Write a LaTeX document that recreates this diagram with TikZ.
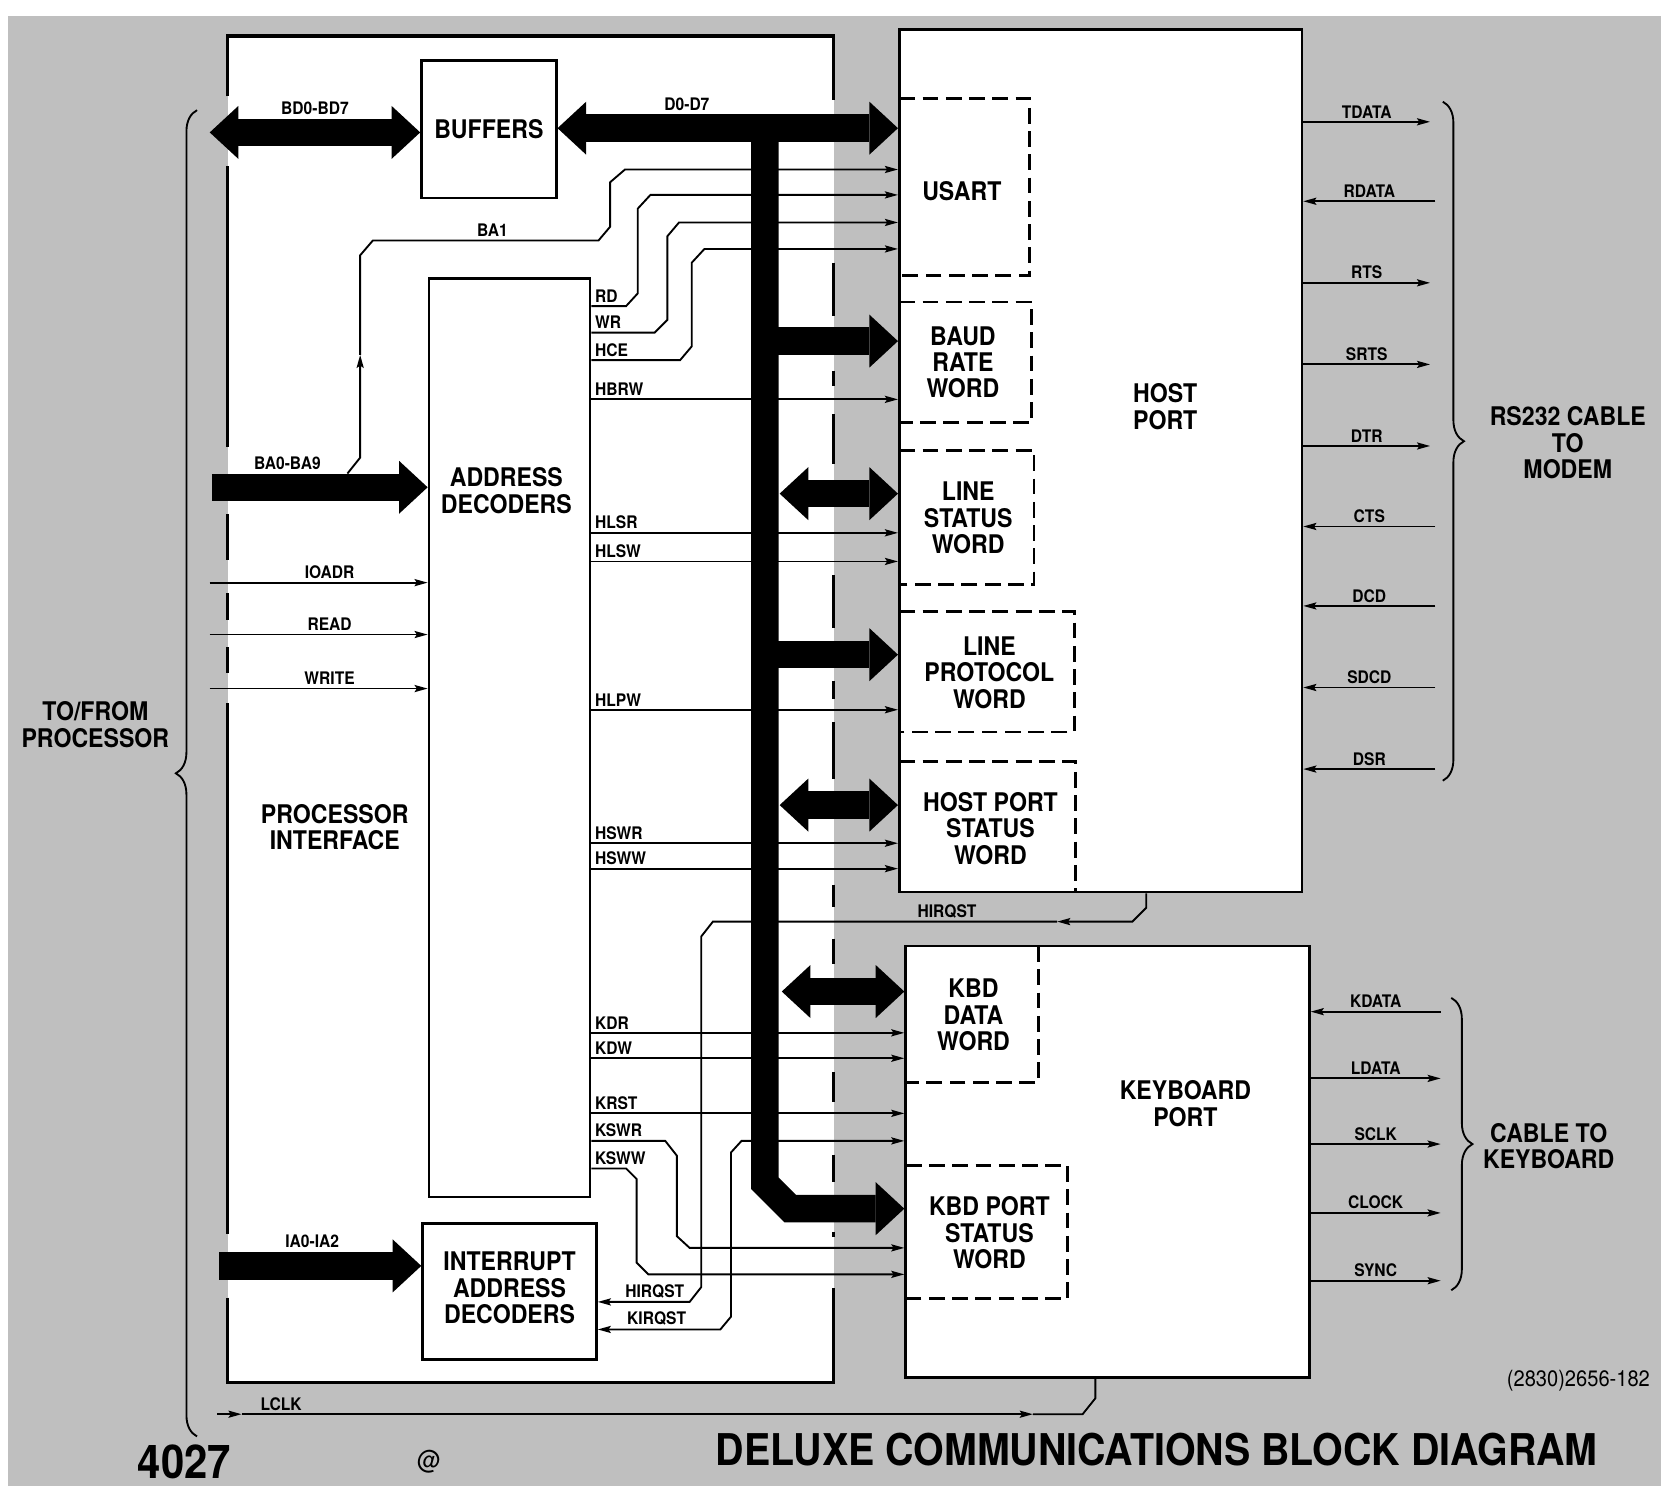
\documentclass[tikz,border=0pt]{standalone}
\usepackage{fontspec}
\setmainfont{TeX Gyre Heros}[FakeStretch=0.9]
\usepackage{tikz}
\usetikzlibrary{arrows.meta, fit, decorations.pathreplacing}
\definecolor{paper}{gray}{0.75}
\newcommand{\blkfont}{\fontsize{13.8}{14.2}\selectfont\bfseries}
\newcommand{\sgfont}{\fontsize{9.3}{10}\selectfont\bfseries}
\newcommand{\ttlfont}{\fontsize{23.5}{26}\selectfont\bfseries}
\tikzset{every node/.append style={font=\blkfont, align=center}}
\tikzset{
  box/.style={draw, line width=1.5pt, fill=white, inner sep=0pt},
  word/.style={inner sep=0pt, outer sep=0pt},
  dbox/.style={line width=1.5pt, dash pattern=on 8.5pt off 4pt},
  edge/.style={line width=1.7pt},
  wire/.style={line width=1pt},
  sig/.style={wire, ->},
  lbl/.style={font=\sgfont, inner sep=1.5pt},
  fatone/.style={line width=0.52cm, -{Triangle[length=0.54cm, width=1cm, line width=0pt]}},
  fatdbl/.style={line width=0.52cm, {Triangle[length=0.54cm, width=1cm, line width=0pt]}-{Triangle[length=0.54cm, width=1cm, line width=0pt]}},
  brc/.style={line width=1pt, decorate, decoration={brace, amplitude=0.4cm}}
}

\begin{document}
\begin{tikzpicture}[x=0.02cm, y=-0.02cm, line join=miter, >={Stealth[length=7pt, width=3.8pt, inset=1.2pt]}]
    \useasboundingbox (0,0) rectangle (1568,1403);
    \fill[paper] (8,15) rectangle (1568,1403);

    % processor interface area, its edges broken where lines cross
    \fill[white] (215,34) rectangle (787,1305);
    \draw[edge] (215,91) -- (215,34) -- (787,34) -- (787,94);
    \draw[edge] (215,1225) -- (215,1305) -- (787,1305) -- (787,1216);
    \foreach \a/\b in {157/422, 485/529, 560/585, 611/635, 664/1165}
        \draw[edge] (215,\a) -- (215,\b);
    \foreach \a/\b in {248/298, 350/364, 391/438, 543/593, 643/660, 682/735, 835/856, 886/910, 1012/1040, 1090/1116, 1163/1168}
        \draw[edge] (787,\a) -- (787,\b);

    % blocks
    \node[box, fit={(398,57) (525,187)}] (buffers) {};
    \node (buftxt) at (buffers.center) {BUFFERS};
    \node[box, fit={(405,263) (557,1130)}] (addr) {};
    \node (addrtxt) at (478,463) {ADDRESS\\DECODERS};
    \node[box, fit={(399,1155) (563,1283)}] (intdec) {};
    \node (inttxt) at (481,1216) {INTERRUPT\\ADDRESS\\DECODERS};
    \node[box, fit={(849,28) (1229,842)}] (host) {};
    \node (hosttxt) at (1100,384) {HOST\\PORT};
    \node[box, fit={(855,893) (1236,1300)}] (kbd) {};
    \node (kbdtxt) at (1119,1042) {KEYBOARD\\PORT};
    \node (procif) at (316,781) {PROCESSOR\\INTERFACE};

    % registers inside the ports
    \node[word, fit={(849,93) (972,260)}] (usart) {};
    \node[word, fit={(849,285) (974,399)}] (baud) {};
    \node[word, fit={(849,425) (976,552)}] (lsw) {};
    \node[word, fit={(849,577) (1014,691)}] (lpw) {};
    \node[word, fit={(849,719) (1015,842)}] (hpsw) {};
    \node[word, fit={(855,893) (980,1022)}] (kdw) {};
    \node[word, fit={(855,1100) (1008,1226)}] (kpsw) {};
    \node (usarttxt) at (908,180) {USART};
    \node (baudtxt) at (909,342) {BAUD\\RATE\\WORD};
    \node (lswtxt) at (914,489) {LINE\\STATUS\\WORD};
    \node (lpwtxt) at (934,635) {LINE\\PROTOCOL\\WORD};
    \node (hpswtxt) at (935,782) {HOST PORT\\STATUS\\WORD};
    \node (kdwtxt) at (919,958) {KBD\\DATA\\WORD};
    \node (kpswtxt) at (934,1164) {KBD PORT\\STATUS\\WORD};
    \foreach \w in {usart, baud, lsw, lpw, kpsw}
        \draw[dbox] (\w.north west) -- (\w.north east) -- (\w.south east) -- (\w.south west);
    \draw[dbox] (hpsw.north west) -- (hpsw.north east) -- (hpsw.south east);
    \draw[dbox] (kdw.north east) -- (kdw.south east) -- (kdw.south west);

    % decoder outputs
    \foreach \n/\y in {HBRW/377, HLSR/503, HLSW/530, HLPW/670, HSWR/796, HSWW/820}
        \draw[sig] (addr.east |- 0,\y) -- (host.west |- 0,\y) node[lbl, pos=0, above right] {\n};
    \foreach \n/\y in {KDR/975, KDW/999, KRST/1051}
        \draw[sig] (addr.east |- 0,\y) -- (kbd.west |- 0,\y) node[lbl, pos=0, above right] {\n};
    \draw[sig] (addr.east |- 0,289) -- (591,289) node[lbl, pos=0, above right] {RD}
        -- (602,277) -- (602,197) -- (614,184) -- (host.west |- 0,184);
    \draw[sig] (addr.east |- 0,314) -- (618,314) node[lbl, pos=0, above right] {WR}
        -- (630,302) -- (630,223) -- (641,210) -- (host.west |- 0,210);
    \draw[sig] (addr.east |- 0,340) -- (642,340) node[lbl, pos=0, above right] {HCE}
        -- (653,327) -- (653,248) -- (665,235) -- (host.west |- 0,235);
    \draw[sig] (addr.east |- 0,1077) -- (628,1077) node[lbl, pos=0, above right] {KSWR}
        -- (639,1091) -- (639,1167) -- (651,1178) -- (kbd.west |- 0,1178);
    \draw[sig] (addr.east |- 0,1103) -- (591,1103) node[lbl, pos=0, above right] {KSWW}
        -- (601,1113) -- (601,1192) -- (612,1203) -- (kbd.west |- 0,1203);

    % BA1
    \draw[sig] (328,447) -- (340,432) -- (340,335);
    \draw[sig] (340,335) -- (340,241) -- (352,227) -- (565,227) node[lbl, pos=0.53, above] {BA1}
        -- (576,214) -- (576,172) -- (590,160) -- (host.west |- 0,160);

    % interrupt requests
    \draw[sig] (host.south -| 1082,0) -- (1082,857) -- (1069,870) -- (998,870);
    \draw[sig] (998,870) -- (673,870) node[lbl, pos=0.32, above] {HIRQST}
        -- (662,884) -- (662,1215) -- (651,1229) -- (intdec.east |- 0,1229) node[lbl, pos=0.38, above] {HIRQST};
    \draw[wire, <->] (intdec.east |- 0,1255) -- (680,1255) node[lbl, pos=0.48, above] {KIRQST}
        -- (690,1243) -- (690,1088) -- (700,1077) -- (kbd.west |- 0,1077);

    % processor side
    \foreach \n/\y in {IOADR/550, READ/599, WRITE/650}
        \draw[sig] (198,\y) -- (addr.west |- 0,\y) node[lbl, pos=0.55, above] {\n};
    \draw[sig] (205,1335) -- (228,1335);
    \draw[sig] (228,1335) -- (975,1335) node[lbl, pos=0.05, above] {LCLK};
    \draw[wire] (975,1335) -- (1022,1335) -- (1034,1320) -- (kbd.south -| 1034,0);

    % modem and keyboard cables
    \foreach \n/\y in {TDATA/115, RTS/267, SRTS/344, DTR/421}
        \draw[sig] (host.east |- 0,\y) -- (1350,\y) node[lbl, midway, above] {\n};
    \foreach \n/\y in {RDATA/190, CTS/497, DCD/572, SDCD/649, DSR/726}
        \draw[sig] (1355,\y) -- (host.east |- 0,\y) node[lbl, midway, above] {\n};
    \foreach \n/\y in {LDATA/1018, SCLK/1080, CLOCK/1145, SYNC/1209}
        \draw[sig] (kbd.east |- 0,\y) -- (1360,\y) node[lbl, midway, above] {\n};
    \draw[sig] (1360,955) -- (kbd.east |- 0,955) node[lbl, midway, above] {KDATA};

    % data buses
    \draw[fatdbl] (198,125) -- (buffers.west |- 0,125) node[lbl, midway, yshift=0.46cm] {BD0-BD7};
    \draw[fatdbl] (buffers.east |- 0,121) -- (host.west |- 0,121) node[lbl, pos=0.38, yshift=0.46cm] {D0-D7};
    \draw[fatone] (200,460) -- (addr.west |- 0,460) node[lbl, pos=0.35, yshift=0.46cm] {BA0-BA9};
    \draw[fatone] (207,1195) -- (intdec.west |- 0,1195) node[lbl, pos=0.46, yshift=0.46cm] {IA0-IA2};
    \draw[fatone] (722,121) -- (722,1117) -- (746,1141) -- (kbd.west |- 0,1141);
    \draw[fatone] (722,322) -- (host.west |- 0,322);
    \draw[fatdbl] (736,466) -- (host.west |- 0,466);
    \draw[fatone] (722,618) -- (host.west |- 0,618);
    \draw[fatdbl] (736,760) -- (host.west |- 0,760);
    \draw[fatdbl] (738,936) -- (kbd.west |- 0,936);

    % braces and captions
    \draw[brc] (186,1356) -- (186,104);
    \draw[brc] (1362,96) -- (1362,737);
    \draw[brc] (1370,942) -- (1370,1218);
    \node (tofrom) at (90,684) {TO/FROM\\PROCESSOR};
    \node (modem) at (1480,418) {RS232 CABLE\\TO\\MODEM};
    \node (kbcable) at (1462,1082) {CABLE TO\\KEYBOARD};
    \node[font=\fontsize{25}{28}\selectfont\bfseries] (modelno) at (174,1380) {4027};
    \node[font=\fontsize{14}{16}\selectfont] (atsign) at (405,1380) {@};
    \node[font=\ttlfont] (title) at (1092,1368) {DELUXE COMMUNICATIONS BLOCK DIAGRAM};
    \node[font=\fontsize{12}{14}\selectfont] (figno) at (1490,1303) {(2830)2656-182};
\end{tikzpicture}
\end{document}
